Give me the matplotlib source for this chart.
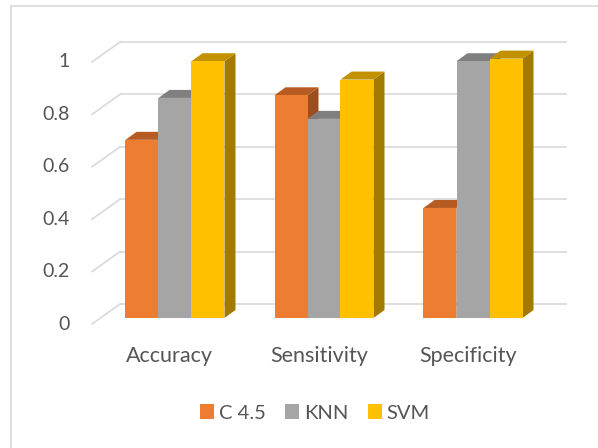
import matplotlib
matplotlib.use('Agg')
import matplotlib.pyplot as plt
from matplotlib.patches import Polygon, Rectangle
from matplotlib.lines import Line2D
import numpy as np

# data
categories = ['Accuracy', 'Sensitivity', 'Specificity']
series = ['C 4.5', 'KNN', 'SVM']
c45 = [0.68, 0.85, 0.42]
knn = [0.84, 0.76, 0.98]
svm = [0.98, 0.91, 0.99]
yticks = [0, 0.2, 0.4, 0.6, 0.8, 1]

front_col = ['#ED7D31', '#A5A5A5', '#FFC000']
top_col = ['#B65B22', '#7F7F7F', '#C29100']
side_col = ['#9C4E1D', '#6E6E6E', '#A27A00']
grid_col = '#D9D9D9'
text_col = '#555555'

W, H = 598, 448
fig = plt.figure(figsize=(W / 100, H / 100), dpi=100)
ax = fig.add_axes([0, 0, 1, 1])

# pixel scale: 149 px per category, 262 px per unit
sx, sy = 149.0, 262.0
x0px, y0px = 175.0, 318.0
ax.set_xlim(-x0px / sx, (W - x0px) / sx)
ax.set_ylim((y0px - H) / sy, y0px / sy)
ax.axis('off')

# depth offsets (data units)
bdx, bdy = 11 / sx, 8 / sy        # bar depth
wdx, wdy = 19.6 / sx, 14 / sy     # back wall
ldx, ldy = -8.4 / sx, -6 / sy     # front (label) plane

wall_left = -0.369
wall_right = 2.631

# back wall gridlines + diagonal ticks on the left
for v in yticks:
    ax.plot([wall_left, wall_right], [v + wdy, v + wdy], color=grid_col, lw=1.2, zorder=1,
            solid_capstyle='butt')
    ax.plot([wall_left - (wdx - ldx), wall_left], [v + ldy, v + wdy], color=grid_col, lw=1.2,
            zorder=1)
    ax.text(-0.705, v + ldy, '{:g}'.format(v), ha='right', va='center', color=text_col,
            fontsize=14, family='Lato')

# bars
w = 33 / sx
x = np.arange(len(categories))
vals = [c45, knn, svm]
for i in range(len(categories)):
    for j in range(len(series)):
        left = x[i] + (j - 1.5) * w
        h = vals[j][i]
        ax.add_patch(Polygon([(left + w, 0), (left + w + bdx, bdy), (left + w + bdx, h + bdy),
                              (left + w, h)], closed=True, fc=side_col[j], ec='none', zorder=3))
        ax.add_patch(Polygon([(left, h), (left + w, h), (left + w + bdx, h + bdy),
                              (left + bdx, h + bdy)], closed=True, fc=top_col[j], ec='none',
                             zorder=3))
        ax.bar(left, h, width=w, align='edge', color=front_col[j], zorder=3)

# category labels
for i, c in enumerate(categories):
    ax.text(x[i] - 0.035, -38 / sy, c, ha='center', va='center', color=text_col,
            fontsize=15.5, family='Lato')

# legend
handles = [Rectangle((0, 0), 1, 1, fc=front_col[j], ec='none') for j in range(3)]
leg = fig.legend(handles, series, loc='center', bbox_to_anchor=(315 / W, 1 - 413 / H), ncol=3,
                 frameon=False, handlelength=0.7, handleheight=0.7, handletextpad=0.25,
                 columnspacing=0.95, prop={'family': 'Lato', 'size': 14.5})
for t in leg.get_texts():
    t.set_color(text_col)

# chart border
fig.add_artist(Line2D([11 / W, 11 / W], [0, 1 - 6 / H], color=grid_col, lw=1.2))
fig.add_artist(Line2D([11 / W, 1], [1 - 6 / H, 1 - 6 / H], color=grid_col, lw=1.2))

plt.savefig('out.png', dpi=100)
